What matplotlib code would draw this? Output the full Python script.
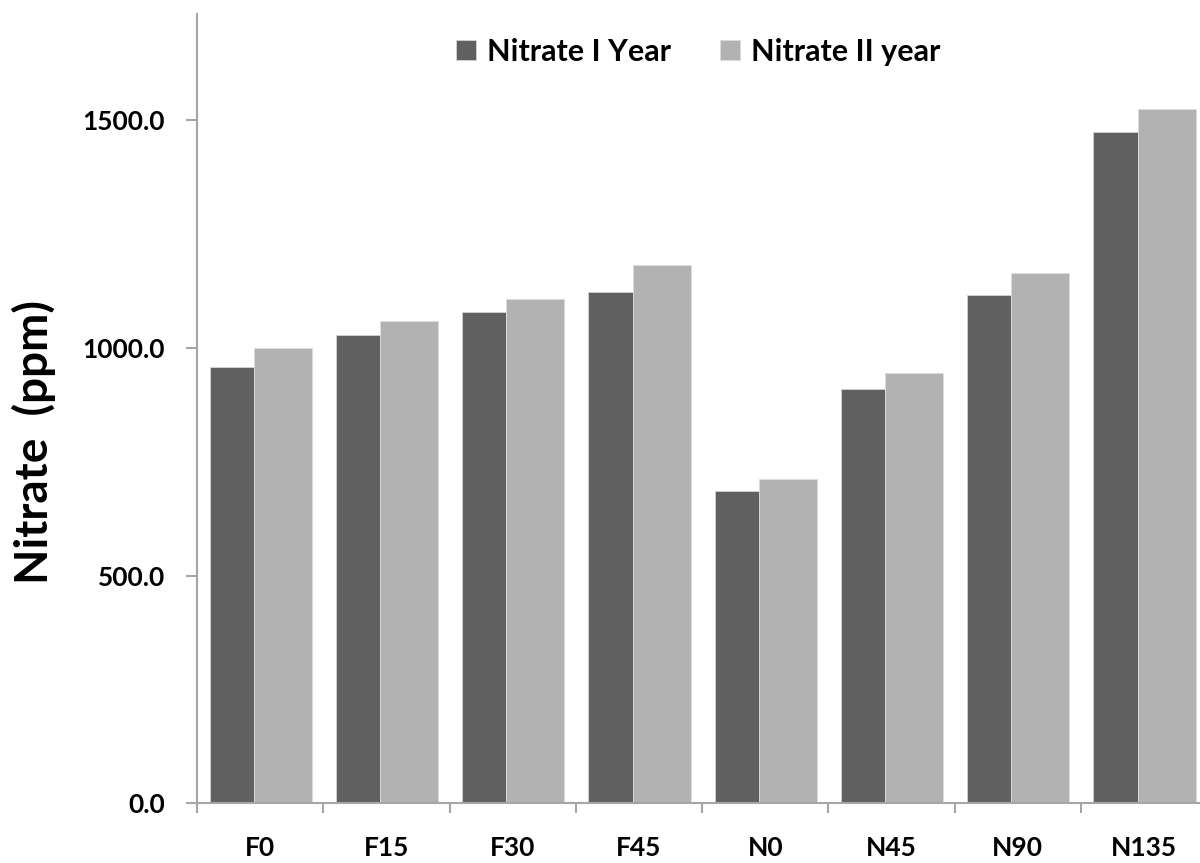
import numpy as np
import matplotlib
matplotlib.use("Agg")
import matplotlib.pyplot as plt

# nitrate in soil per treatment, two seasons
treatments = ["F0", "F15", "F30", "F45", "N0", "N45", "N90", "N135"]
nitrate_year1 = [958, 1029, 1078, 1122, 685, 910, 1116, 1474]
nitrate_year2 = [1001, 1059, 1108, 1183, 711, 945, 1165, 1526]
series_names = ["Nitrate I Year", "Nitrate II year"]

plt.rcParams["font.family"] = ["Lato", "DejaVu Sans"]
plt.rcParams["font.weight"] = "bold"

fig = plt.figure(figsize=(12, 8.63), dpi=100)
ax = fig.add_axes([0.1642, 0.0695, 0.8417, 0.9143])

x = np.arange(len(treatments))
ax.bar(x - 0.40, nitrate_year1, width=0.35, align="edge", color="#606060",
       edgecolor="#d4d4d4", linewidth=0.6, label=series_names[0])
ax.bar(x - 0.05, nitrate_year2, width=0.46, align="edge", color="#b2b2b2",
       edgecolor="#dcdcdc", linewidth=0.6, label=series_names[1])

ax.set_xlim(-0.5, len(treatments) - 0.5)
ax.set_ylim(0, 1734)

ax.set_yticks([0, 500, 1000, 1500])
ax.set_yticklabels(["%.1f" % v for v in [0, 500, 1000, 1500]],
                   fontsize=19, fontweight="bold")
ax.set_xticks(x)
ax.set_xticklabels(treatments, fontsize=19, fontweight="bold")
ax.set_xticks(np.arange(len(treatments) + 1) - 0.5, minor=True)

axis_grey = "#a6a6a6"
for side in ["top", "right"]:
    ax.spines[side].set_visible(False)
for side in ["left", "bottom"]:
    ax.spines[side].set_color(axis_grey)
    ax.spines[side].set_linewidth(1.5)

ax.tick_params(axis="y", length=8, width=1.5, color=axis_grey, pad=15)
ax.tick_params(axis="x", which="major", length=0, pad=24)
ax.tick_params(axis="x", which="minor", length=7, width=1.5, color=axis_grey)

ax.set_ylabel("Nitrate  (ppm)", fontsize=33, fontweight="bold")
ax.yaxis.set_label_coords(-0.14, 0.457)

ax.legend(loc="center", bbox_to_anchor=(0.496, 0.952), ncol=2, frameon=False,
          prop={"size": 22, "weight": "bold"}, handlelength=0.66,
          handleheight=0.66, handletextpad=0.35, columnspacing=1.6)

fig.savefig("out.png", dpi=100)
